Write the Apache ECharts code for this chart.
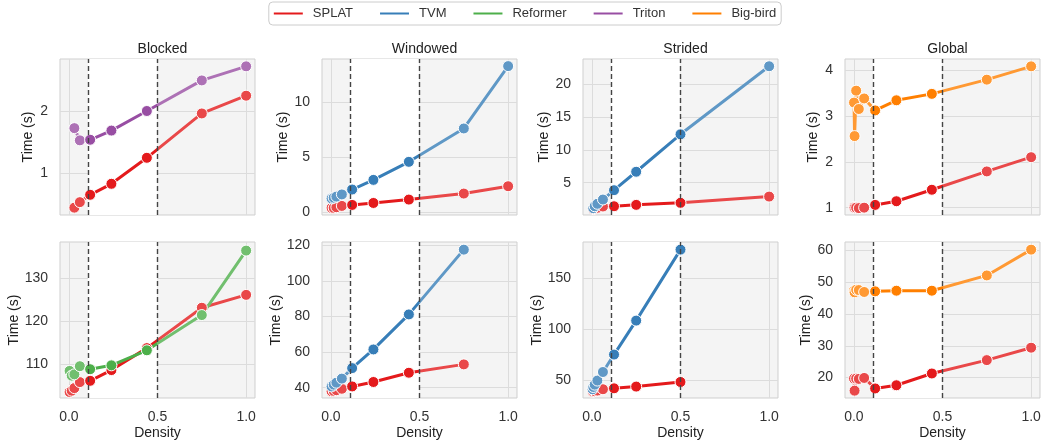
<!DOCTYPE html>
<html>
<head>
<meta charset="utf-8">
<script src="https://cdn.jsdelivr.net/npm/echarts@6/dist/echarts.min.js"></script>
<style>
  html, body { margin: 0; padding: 0; background: #fff; }
  #chart { width: 1050px; height: 444px; }
</style>
</head>
<body>
<div id="chart"></div>
<script>
// densities used by each panel
const dBlockedTop = [0.031, 0.062, 0.12, 0.24, 0.44, 0.75, 1.0];
const dBlockedBot = [0.004, 0.016, 0.031, 0.062, 0.12, 0.24, 0.44, 0.75, 1.0];
const dWindowedTop = [0.004, 0.016, 0.031, 0.062, 0.12, 0.24, 0.44, 0.75, 1.0];
const dWindowedBot = [0.004, 0.016, 0.031, 0.062, 0.12, 0.24, 0.44, 0.75];
const dStridedTop = [0.008, 0.016, 0.031, 0.0625, 0.125, 0.25, 0.5, 1.0];
const dStridedBot = [0.004, 0.008, 0.016, 0.031, 0.0625, 0.125, 0.25, 0.5];
const dGlobal = [0.001, 0.004, 0.013, 0.028, 0.058, 0.12, 0.24, 0.44, 0.75, 1.0];

// times (s), top row
const blockedSplatTop = [0.43, 0.52, 0.64, 0.82, 1.245, 1.97, 2.26];
const blockedTriton = [1.73, 1.53, 1.54, 1.69, 2.01, 2.51, 2.74];
const windowedSplatTop = [0.37, 0.37, 0.43, 0.55, 0.64, 0.82, 1.13, 1.68, 2.35];
const windowedTvmTop = [1.23, 1.3, 1.4, 1.6, 2.05, 2.93, 4.58, 7.63, 13.33];
const stridedSplatTop = [1.0, 1.1, 1.2, 1.39, 1.43, 1.64, 1.95, 2.9];
const stridedTvmTop = [1.13, 1.43, 1.8, 2.45, 3.87, 6.67, 12.36, 22.7];
const globalSplatTop = [1.01, 1.0, 1.0, 0.99, 1.0, 1.06, 1.14, 1.39, 1.79, 2.1];
const globalBigbirdTop = [3.29, 2.56, 3.55, 3.15, 3.38, 3.12, 3.34, 3.48, 3.79, 4.08];

// times (s), bottom row
const blockedSplatBot = [103.5, 103.8, 104.4, 105.8, 106.1, 108.6, 113.7, 123.1, 126.1];
const blockedReformer = [108.4, 107.3, 107.6, 109.5, 108.8, 109.7, 113.2, 121.4, 136.4];
const windowedSplatBot = [38.0, 38.2, 38.6, 39.4, 40.7, 43.2, 48.4, 53.1];
const windowedTvmBot = [40.7, 41.7, 42.8, 45.1, 51.0, 61.5, 81.2, 117.6];
const stridedSplatBot = [39.0, 39.3, 39.6, 40.2, 41.5, 42.4, 44.1, 48.6];
const stridedTvmBot = [41.5, 43.7, 46.0, 50.0, 58.4, 75.5, 108.8, 178.4];
const globalSplatBot = [19.7, 15.9, 19.7, 19.6, 19.9, 16.6, 17.6, 21.3, 25.5, 29.4];
const globalBigbirdBot = [47.3, 46.8, 47.6, 47.5, 46.9, 47.1, 47.3, 47.3, 52.1, 60.2];

const titles = ['Blocked', 'Windowed', 'Strided', 'Global'];
const methods = ['SPLAT', 'TVM', 'Reformer', 'Triton', 'Big-bird'];
const xTicks = [0, 0.5, 1.0];
const bandLo = 0.108, bandHi = 0.5;

const colors = {
  'SPLAT': '#e41a1c', 'TVM': '#377eb8', 'Reformer': '#4daf4a',
  'Triton': '#984ea3', 'Big-bird': '#ff7f00'
};
function light(hex) {
  const n = parseInt(hex.slice(1), 16);
  const c = [n >> 16, (n >> 8) & 255, n & 255].map(v => Math.round(v * 0.8 + 255 * 0.2));
  return 'rgb(' + c.join(',') + ')';
}

const panels = [
  { r: 0, c: 0, ymin: 0.31, ymax: 2.86, yt: [1, 2], gap: 25, lines: [['SPLAT', dBlockedTop, blockedSplatTop], ['Triton', dBlockedTop, blockedTriton]] },
  { r: 0, c: 1, ymin: -0.28, ymax: 13.98, yt: [0, 5, 10], gap: 31, lines: [['SPLAT', dWindowedTop, windowedSplatTop], ['TVM', dWindowedTop, windowedTvmTop]] },
  { r: 0, c: 2, ymin: 0.1, ymax: 23.8, yt: [5, 10, 15, 20], gap: 31, lines: [['SPLAT', dStridedTop, stridedSplatTop], ['TVM', dStridedTop, stridedTvmTop]] },
  { r: 0, c: 3, ymin: 0.84, ymax: 4.24, yt: [1, 2, 3, 4], gap: 25, lines: [['SPLAT', dGlobal, globalSplatTop], ['Big-bird', dGlobal, globalBigbirdTop]] },
  { r: 1, c: 0, ymin: 102.1, ymax: 138.4, yt: [110, 120, 130], gap: 38, lines: [['SPLAT', dBlockedBot, blockedSplatBot], ['Reformer', dBlockedBot, blockedReformer]] },
  { r: 1, c: 1, ymin: 34.2, ymax: 121.9, yt: [40, 60, 80, 100, 120], gap: 38, lines: [['SPLAT', dWindowedBot, windowedSplatBot], ['TVM', dWindowedBot, windowedTvmBot]] },
  { r: 1, c: 2, ymin: 32.9, ymax: 185.9, yt: [50, 100, 150], gap: 38, lines: [['SPLAT', dStridedBot, stridedSplatBot], ['TVM', dStridedBot, stridedTvmBot]] },
  { r: 1, c: 3, ymin: 13.6, ymax: 62.6, yt: [20, 30, 40, 50, 60], gap: 31, lines: [['SPLAT', dGlobal, globalSplatBot], ['Big-bird', dGlobal, globalBigbirdBot]] }
];

const lefts = [60, 322, 583, 845];
const tops = [59, 242];
const W = 195, H = 156;
const font = 'Liberation Sans, Arial, sans-serif';
const gridColor = '#dcdcdc';

const grids = [], xAxes = [], yAxes = [], series = [], visualMaps = [], titleList = [];

panels.forEach((p, i) => {
  grids.push({
    left: lefts[p.c], top: tops[p.r], width: W, height: H,
    show: true, backgroundColor: '#f4f4f4', borderColor: '#cfcfcf', borderWidth: 1
  });
  xAxes.push({
    type: 'value', gridIndex: i, min: -0.05, max: 1.05,
    axisLine: { show: false },
    axisTick: { show: false, customValues: xTicks },
    splitLine: { show: true, lineStyle: { color: gridColor, width: 1 } },
    axisLabel: {
      show: p.r === 1, customValues: xTicks, margin: 12,
      fontSize: 14, color: '#333', fontFamily: font,
      formatter: v => v.toFixed(1)
    },
    name: p.r === 1 ? 'Density' : '', nameLocation: 'middle', nameGap: 28,
    nameTextStyle: { fontSize: 14, color: '#222', fontFamily: font }
  });
  yAxes.push({
    type: 'value', gridIndex: i, min: p.ymin, max: p.ymax,
    axisLine: { show: false },
    axisTick: { show: false, customValues: p.yt },
    splitLine: { show: true, lineStyle: { color: gridColor, width: 1 } },
    axisLabel: { customValues: p.yt, margin: 12, fontSize: 14, color: '#333', fontFamily: font },
    name: 'Time (s)', nameLocation: 'middle', nameGap: p.gap,
    nameTextStyle: { fontSize: 14, color: '#222', fontFamily: font }
  });
  // white band between the dashed lines
  series.push({
    type: 'line', name: 'band' + i, xAxisIndex: i, yAxisIndex: i, data: [], z: 1, silent: true,
    markArea: { silent: true, itemStyle: { color: '#ffffff', opacity: 1 }, data: [[{ xAxis: bandLo }, { xAxis: bandHi }]] }
  });
  p.lines.forEach(([name, xs, ys]) => {
    const col = colors[name];
    visualMaps.push({
      type: 'piecewise', show: false, dimension: 0, seriesIndex: series.length,
      pieces: [
        { lt: bandLo, color: light(col) },
        { gte: bandLo, lte: bandHi, color: col },
        { gt: bandHi, color: light(col) }
      ]
    });
    series.push({
      type: 'line', name: name, xAxisIndex: i, yAxisIndex: i, z: 3,
      data: xs.map((x, k) => [x, ys[k]]),
      color: col,
      symbol: 'circle', symbolSize: 11, showAllSymbol: true,
      itemStyle: { borderColor: '#fff', borderWidth: 1 },
      lineStyle: { width: 3 },
      emphasis: { disabled: true }
    });
  });
  // dashed markers on top
  series.push({
    type: 'line', name: 'vline' + i, xAxisIndex: i, yAxisIndex: i, data: [], z: 6, silent: true,
    markLine: {
      silent: true, symbol: 'none', label: { show: false },
      lineStyle: { color: '#444', type: [5, 3], width: 1.4 },
      data: [{ xAxis: bandLo }, { xAxis: bandHi }]
    }
  });
  if (p.r === 0) {
    titleList.push({
      text: titles[p.c], left: lefts[p.c] + W / 2, top: 37, textAlign: 'center',
      textStyle: { fontSize: 14, fontWeight: 'normal', color: '#222', fontFamily: font }
    });
  }
});

const chart = echarts.init(document.getElementById('chart'), null, { renderer: 'canvas' });
chart.setOption({
  animation: false,
  backgroundColor: '#fff',
  title: titleList,
  legend: {
    data: methods.map(m => ({ name: m, icon: 'rect', itemStyle: { color: colors[m], borderWidth: 0 } })),
    top: 2, left: 'center',
    itemWidth: 29, itemHeight: 2, itemGap: 27,
    borderColor: '#cccccc', borderWidth: 1, borderRadius: 4, padding: [5, 5],
    textStyle: { fontSize: 13, color: '#333', fontFamily: font, padding: [0, 0, 0, 5] }
  },
  grid: grids,
  xAxis: xAxes,
  yAxis: yAxes,
  visualMap: visualMaps,
  series: series
});
</script>
</body>
</html>
